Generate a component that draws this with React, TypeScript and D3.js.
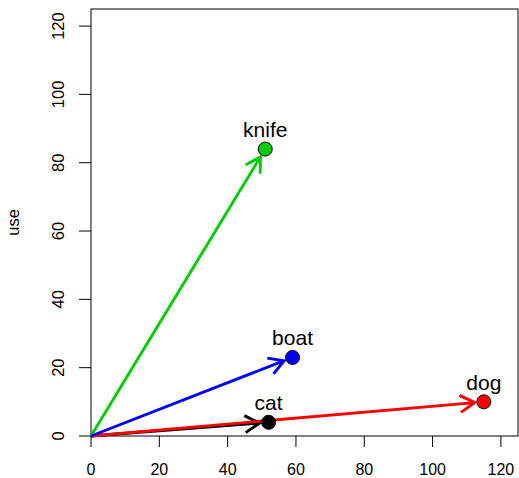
import React from "react";
import * as d3 from "d3";

const labels = ["cat", "dog", "knife", "boat"];
const xValues = [52, 115, 51, 59];
const yValues = [4, 10, 84, 23];
const colors = ["#000000", "#FF0000", "#00CD00", "#0000FF"];
const tickValues = [0, 20, 40, 60, 80, 100, 120];
const yLabel = "use";

const W = 519;
const H = 478;

export default function App() {
  const x = d3.scaleLinear().domain([0, 125]).range([91, 518]);
  const y = d3.scaleLinear().domain([0, 125]).range([436, 9]);
  const font = "Liberation Sans, Arial, sans-serif";
  const shortfall = 9;
  const headLen = 17;
  const headAng = Math.PI / 6;

  const arrows = labels.map((lab, i) => {
    const x0 = x(0), y0 = y(0);
    const x1 = x(xValues[i]), y1 = y(yValues[i]);
    const len = Math.hypot(x1 - x0, y1 - y0);
    const ux = (x1 - x0) / len, uy = (y1 - y0) / len;
    const tx = x1 - ux * shortfall, ty = y1 - uy * shortfall;
    const ang = Math.atan2(uy, ux);
    const h1x = tx - headLen * Math.cos(ang - headAng);
    const h1y = ty - headLen * Math.sin(ang - headAng);
    const h2x = tx - headLen * Math.cos(ang + headAng);
    const h2y = ty - headLen * Math.sin(ang + headAng);
    const path = d3.path();
    path.moveTo(x0, y0);
    path.lineTo(tx, ty);
    path.moveTo(h1x, h1y);
    path.lineTo(tx, ty);
    path.lineTo(h2x, h2y);
    return { d: path.toString(), color: colors[i] };
  });

  return (
    <svg width={W} height={H} style={{ position: "absolute", left: 0, top: 0, background: "#fff" }}>
      <rect x={0} y={0} width={W} height={H} fill="#fff" />
      <rect x={x(0)} y={y(125)} width={x(125) - x(0)} height={y(0) - y(125)} fill="none" stroke="#000" strokeWidth={1} />
      {tickValues.map((t) => (
        <g key={"x" + t}>
          <line x1={x(t)} x2={x(t)} y1={y(0)} y2={y(0) + 11} stroke="#000" strokeWidth={1} />
          <text x={x(t)} y={474.5} textAnchor="middle" fontFamily={font} fontSize={16} fill="#000">{t}</text>
        </g>
      ))}
      {tickValues.map((t) => (
        <g key={"y" + t}>
          <line x1={x(0) - 12} x2={x(0)} y1={y(t)} y2={y(t)} stroke="#000" strokeWidth={1} />
          <text transform={`translate(64,${y(t)}) rotate(-90)`} textAnchor="middle" fontFamily={font} fontSize={16.5} fill="#000">{t}</text>
        </g>
      ))}
      <text transform={`translate(19,${(y(0) + y(125)) / 2}) rotate(-90)`} textAnchor="middle" fontFamily={font} fontSize={16.5} fill="#000">{yLabel}</text>
      {arrows.map((a, i) => (
        <path key={"a" + i} d={a.d} fill="none" stroke={a.color} strokeWidth={2.9} strokeLinecap="butt" strokeLinejoin="miter" />
      ))}
      {labels.map((lab, i) => (
        <circle key={"p" + i} cx={x(xValues[i])} cy={y(yValues[i])} r={7} fill={colors[i]} stroke="#000" strokeWidth={1} />
      ))}
      {labels.map((lab, i) => (
        <text key={"l" + i} x={x(xValues[i])} y={y(yValues[i]) - 12} textAnchor="middle" fontFamily={font} fontSize={21} fill="#000">{lab}</text>
      ))}
    </svg>
  );
}
